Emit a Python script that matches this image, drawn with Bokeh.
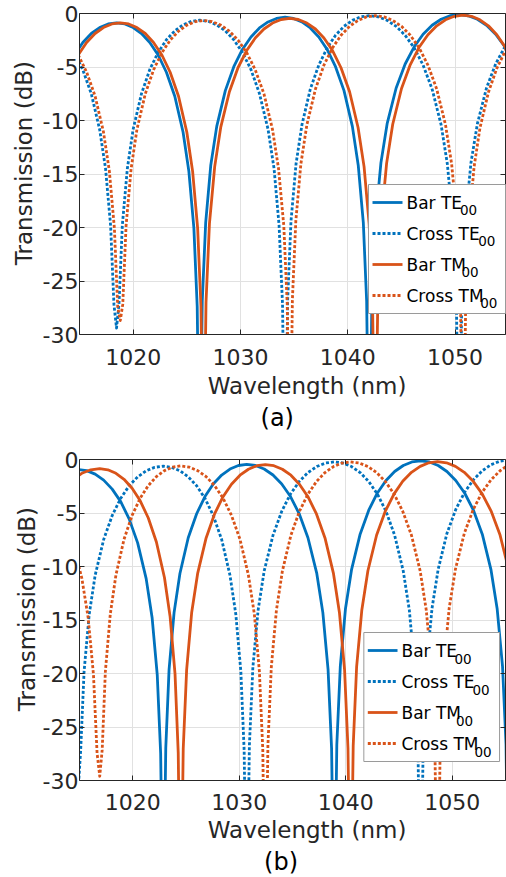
from bokeh.plotting import figure
from bokeh.models import LinearAxis, FixedTicker, Title
from bokeh.core.properties import value
from bokeh.layouts import column
from bokeh.embed import file_html
from bokeh.resources import INLINE

FONT = "DejaVu Sans"
BLUE = "#0072BD"
ORANGE = "#D95319"
AXC = "#262626"
NB = "\u00a0"

wl_ticks = [1020, 1030, 1040, 1050]
db_ticks = [-30, -25, -20, -15, -10, -5, 0]
db_tick_labels = ["-30", "-25", "-20", "-15", "-10", "-5", "0"]
series_labels = ["Bar TE", "Cross TE", "Bar TM", "Cross TM"]
subscript = "00"
x_label = "Wavelength (nm)"
y_label = "Transmission (dB)"

# ---------------- panel (a) ----------------
a_bar_te_wl = [1013.74, 1014.53, 1015.31, 1016.10, 1016.88, 1017.67, 1018.45, 1019.23, 1020.00, 1020.78,
               1021.55, 1022.33, 1023.10, 1023.88, 1024.65, 1025.19, 1025.66, 1025.97, 1026.20,
               1026.44, 1026.76, 1027.23, 1027.79, 1028.59, 1029.38, 1030.18, 1030.98, 1031.77, 1032.57,
               1033.36, 1034.16, 1034.94, 1035.73, 1036.51, 1037.30, 1038.08, 1038.86, 1039.65, 1040.43,
               1040.98, 1041.45, 1041.76, 1042.00,
               1042.25, 1042.59, 1043.09, 1043.67, 1044.51, 1045.35, 1046.19, 1047.02, 1047.86, 1048.70,
               1049.53, 1050.37, 1051.22, 1052.08, 1052.93, 1053.78, 1054.64, 1055.49]
a_bar_te_db = [-5.49, -3.88, -2.71, -1.87, -1.31, -0.98, -0.87, -0.98, -1.31, -1.87,
               -2.71, -3.88, -5.49, -7.73, -11.07, -14.73, -20.06, -27.41, -45,
               -26.89, -19.54, -14.21, -10.55, -7.21, -4.97, -3.36, -2.19, -1.35, -0.79,
               -0.46, -0.35, -0.46, -0.79, -1.35, -2.19, -3.36, -4.97, -7.21, -10.55,
               -14.21, -19.54, -26.89, -45,
               -26.64, -19.29, -13.96, -10.30, -6.96, -4.72, -3.11, -1.94, -1.10, -0.54,
               -0.21, -0.10, -0.21, -0.54, -1.10, -1.94, -3.11, -4.72]

a_cross_te_wl = [1014.53, 1015.31, 1016.10, 1016.88, 1017.43, 1017.90, 1018.21, 1018.45,
                 1018.68, 1018.99, 1019.46, 1020.00, 1020.78, 1021.55, 1022.33, 1023.10, 1023.88, 1024.65,
                 1025.43, 1026.20,
                 1027.00, 1027.79, 1028.59, 1029.38, 1030.18, 1030.98, 1031.77, 1032.57, 1033.13, 1033.60,
                 1033.92, 1034.16,
                 1034.40, 1034.71, 1035.18, 1035.73, 1036.51, 1037.30, 1038.08, 1038.86, 1039.65, 1040.43,
                 1041.22, 1042.00,
                 1042.84, 1043.67, 1044.51, 1045.35, 1046.19, 1047.02, 1047.86, 1048.70, 1049.28, 1049.78,
                 1050.12, 1050.37,
                 1050.63, 1050.97, 1051.48, 1052.08, 1052.93, 1053.78, 1054.64, 1055.49]
a_cross_te_db = [-3.66, -5.27, -7.51, -10.85, -14.51, -19.84, -27.19, -29.4,
                 -27.16, -19.81, -14.48, -10.82, -7.48, -5.24, -3.63, -2.46, -1.62, -1.06,
                 -0.73, -0.62,
                 -0.73, -1.06, -1.62, -2.46, -3.63, -5.24, -7.48, -10.82, -14.48, -19.81,
                 -27.16, -45,
                 -26.74, -19.39, -14.06, -10.40, -7.06, -4.82, -3.21, -2.04, -1.20, -0.64,
                 -0.31, -0.20,
                 -0.31, -0.64, -1.20, -2.04, -3.21, -4.82, -7.06, -10.40, -14.06, -19.39,
                 -26.74, -45,
                 -26.64, -19.29, -13.96, -10.30, -6.96, -4.72, -3.11, -1.94]

a_bar_tm_wl = [1014.09, 1014.88, 1015.66, 1016.45, 1017.23, 1018.02, 1018.80, 1019.58, 1020.35, 1021.13,
               1021.90, 1022.68, 1023.45, 1024.23, 1025.00, 1025.54, 1026.01, 1026.32, 1026.55,
               1026.79, 1027.11, 1027.60, 1028.16, 1028.97, 1029.77, 1030.58, 1031.38, 1032.19, 1032.99,
               1033.80, 1034.60, 1035.40, 1036.19, 1036.99, 1037.78, 1038.58, 1039.37, 1040.17, 1040.96,
               1041.52, 1041.99, 1042.31, 1042.55,
               1042.80, 1043.12, 1043.62, 1044.19, 1045.01, 1045.83, 1046.65, 1047.47, 1048.29, 1049.11,
               1049.93, 1050.75, 1051.54, 1052.32, 1053.11, 1053.89, 1054.68, 1055.46]
a_bar_tm_db = [-5.49, -3.88, -2.71, -1.87, -1.31, -0.98, -0.87, -0.98, -1.31, -1.87,
               -2.71, -3.88, -5.49, -7.73, -11.07, -14.73, -20.06, -27.41, -45,
               -26.99, -19.64, -14.31, -10.65, -7.31, -5.07, -3.46, -2.29, -1.45, -0.89,
               -0.56, -0.45, -0.56, -0.89, -1.45, -2.29, -3.46, -5.07, -7.31, -10.65,
               -14.31, -19.64, -26.99, -45,
               -26.69, -19.34, -14.01, -10.35, -7.01, -4.77, -3.16, -1.99, -1.15, -0.59,
               -0.26, -0.15, -0.26, -0.59, -1.15, -1.99, -3.16, -4.77]

a_cross_tm_wl = [1014.88, 1015.66, 1016.45, 1017.23, 1017.78, 1018.25, 1018.56, 1018.80,
                 1019.03, 1019.34, 1019.81, 1020.35, 1021.13, 1021.90, 1022.68, 1023.45, 1024.23, 1025.00,
                 1025.78, 1026.55,
                 1027.36, 1028.16, 1028.97, 1029.77, 1030.58, 1031.38, 1032.19, 1032.99, 1033.55, 1034.04,
                 1034.36, 1034.60,
                 1034.84, 1035.16, 1035.63, 1036.19, 1036.99, 1037.78, 1038.58, 1039.37, 1040.17, 1040.96,
                 1041.76, 1042.55,
                 1043.37, 1044.19, 1045.01, 1045.83, 1046.65, 1047.47, 1048.29, 1049.11, 1049.68, 1050.18,
                 1050.50, 1050.75,
                 1050.99, 1051.30, 1051.77, 1052.32, 1053.11, 1053.89, 1054.68, 1055.46]
a_cross_tm_db = [-3.86, -5.47, -7.71, -11.05, -14.71, -20.04, -27.39, -28.7,
                 -27.19, -19.84, -14.51, -10.85, -7.51, -5.27, -3.66, -2.49, -1.65, -1.09,
                 -0.76, -0.65,
                 -0.76, -1.09, -1.65, -2.49, -3.66, -5.27, -7.51, -10.85, -14.51, -19.84,
                 -27.19, -45,
                 -26.74, -19.39, -14.06, -10.40, -7.06, -4.82, -3.21, -2.04, -1.20, -0.64,
                 -0.31, -0.20,
                 -0.31, -0.64, -1.20, -2.04, -3.21, -4.82, -7.06, -10.40, -14.06, -19.39,
                 -26.74, -45,
                 -27.04, -19.69, -14.36, -10.70, -7.36, -5.12, -3.51, -2.34]

# ---------------- panel (b) ----------------
b_bar_te_wl = [1013.27, 1014.07, 1014.87, 1015.67, 1016.47, 1017.27, 1018.07, 1018.87, 1019.66, 1020.46,
               1021.26, 1021.82, 1022.30, 1022.62, 1022.86,
               1023.10, 1023.41, 1023.88, 1024.43, 1025.21, 1026.00, 1026.78, 1027.56, 1028.35, 1029.13,
               1029.92, 1030.70, 1031.52, 1032.34, 1033.17, 1033.99, 1034.81, 1035.63, 1036.45, 1037.28,
               1037.85, 1038.34, 1038.67, 1038.92,
               1039.16, 1039.49, 1039.97, 1040.54, 1041.35, 1042.16, 1042.97, 1043.78, 1044.59, 1045.40,
               1046.21, 1047.02, 1047.85, 1048.68, 1049.50, 1050.33, 1051.16, 1051.99, 1052.82, 1053.64,
               1054.22, 1054.72, 1055.05, 1055.30]
b_bar_te_db = [-1.37, -1.04, -0.93, -1.04, -1.37, -1.93, -2.77, -3.94, -5.55, -7.79,
               -11.13, -14.79, -20.12, -27.47, -45,
               -26.99, -19.64, -14.31, -10.65, -7.31, -5.07, -3.46, -2.29, -1.45, -0.89,
               -0.56, -0.45, -0.56, -0.89, -1.45, -2.29, -3.46, -5.07, -7.31, -10.65,
               -14.31, -19.64, -26.99, -45,
               -26.66, -19.31, -13.98, -10.32, -6.98, -4.74, -3.13, -1.96, -1.12, -0.56,
               -0.23, -0.12, -0.23, -0.56, -1.12, -1.96, -3.13, -4.74, -6.98, -10.32,
               -13.98, -19.31, -26.66, -45]

b_cross_te_wl = [1014.63, 1014.87,
                 1015.11, 1015.43, 1015.91, 1016.47, 1017.27, 1018.07, 1018.87, 1019.66, 1020.46, 1021.26,
                 1022.06, 1022.86,
                 1023.64, 1024.43, 1025.21, 1026.00, 1026.78, 1027.56, 1028.35, 1029.13, 1029.68, 1030.15,
                 1030.46, 1030.70,
                 1030.95, 1031.28, 1031.77, 1032.34, 1033.17, 1033.99, 1034.81, 1035.63, 1036.45, 1037.28,
                 1038.10, 1038.92,
                 1039.73, 1040.54, 1041.35, 1042.16, 1042.97, 1043.78, 1044.59, 1045.40, 1045.97, 1046.45,
                 1046.78, 1047.02,
                 1047.27, 1047.60, 1048.10, 1048.68, 1049.50, 1050.33, 1051.16, 1051.99, 1052.82, 1053.64,
                 1054.47, 1055.30]
b_cross_te_db = [-27.5, -31,
                 -27.16, -19.81, -14.48, -10.82, -7.48, -5.24, -3.63, -2.46, -1.62, -1.06,
                 -0.73, -0.62,
                 -0.73, -1.06, -1.62, -2.46, -3.63, -5.24, -7.48, -10.82, -14.48, -19.81,
                 -27.16, -45,
                 -26.76, -19.41, -14.08, -10.42, -7.08, -4.84, -3.23, -2.06, -1.22, -0.66,
                 -0.33, -0.22,
                 -0.33, -0.66, -1.22, -2.06, -3.23, -4.84, -7.08, -10.42, -14.08, -19.41,
                 -26.76, -45,
                 -26.59, -19.24, -13.91, -10.25, -6.91, -4.67, -3.06, -1.89, -1.05, -0.49,
                 -0.16, -0.05]

b_bar_tm_wl = [1013.54, 1014.38, 1015.22, 1016.06, 1016.90, 1017.66, 1018.42, 1019.18, 1019.94, 1020.70,
               1021.46, 1022.22, 1022.98, 1023.51, 1023.97, 1024.27, 1024.50,
               1024.74, 1025.06, 1025.53, 1026.09, 1026.89, 1027.68, 1028.48, 1029.27, 1030.07, 1030.86,
               1031.66, 1032.45, 1033.25, 1034.05, 1034.85, 1035.65, 1036.45, 1037.25, 1038.05, 1038.85,
               1039.41, 1039.89, 1040.21, 1040.45,
               1040.70, 1041.02, 1041.51, 1042.08, 1042.90, 1043.72, 1044.54, 1045.35, 1046.17, 1046.99,
               1047.80, 1048.62, 1049.46, 1050.30, 1051.13, 1051.97, 1052.81, 1053.65, 1054.49, 1055.32]
b_bar_tm_db = [-2.69, -1.85, -1.29, -0.96, -0.85, -0.96, -1.29, -1.85, -2.69, -3.86,
               -5.47, -7.71, -11.05, -14.71, -20.04, -27.39, -45,
               -27.01, -19.66, -14.33, -10.67, -7.33, -5.09, -3.48, -2.31, -1.47, -0.91,
               -0.58, -0.47, -0.58, -0.91, -1.47, -2.31, -3.48, -5.09, -7.33, -10.67,
               -14.33, -19.66, -27.01, -45,
               -26.74, -19.39, -14.06, -10.40, -7.06, -4.82, -3.21, -2.04, -1.20, -0.64,
               -0.31, -0.20, -0.31, -0.64, -1.20, -2.04, -3.21, -4.82, -7.06, -10.40]

b_cross_tm_wl = [1013.54, 1014.38, 1015.22, 1015.81, 1016.31, 1016.65, 1016.90,
                 1017.13, 1017.43, 1017.89, 1018.42, 1019.18, 1019.94, 1020.70, 1021.46, 1022.22, 1022.98,
                 1023.74, 1024.50,
                 1025.30, 1026.09, 1026.89, 1027.68, 1028.48, 1029.27, 1030.07, 1030.86, 1031.42, 1031.89,
                 1032.21, 1032.45,
                 1032.69, 1033.01, 1033.49, 1034.05, 1034.85, 1035.65, 1036.45, 1037.25, 1038.05, 1038.85,
                 1039.65, 1040.45,
                 1041.27, 1042.08, 1042.90, 1043.72, 1044.54, 1045.35, 1046.17, 1046.99, 1047.56, 1048.05,
                 1048.37, 1048.62,
                 1048.87, 1049.21, 1049.71, 1050.30, 1051.13, 1051.97, 1052.81, 1053.65, 1054.49, 1055.32]
b_cross_tm_db = [-5.52, -7.76, -11.10, -14.76, -20.09, -27.44, -29.6,
                 -27.14, -19.79, -14.46, -10.80, -7.46, -5.22, -3.61, -2.44, -1.60, -1.04,
                 -0.71, -0.60,
                 -0.71, -1.04, -1.60, -2.44, -3.61, -5.22, -7.46, -10.80, -14.46, -19.79,
                 -27.14, -45,
                 -26.76, -19.41, -14.08, -10.42, -7.08, -4.84, -3.23, -2.06, -1.22, -0.66,
                 -0.33, -0.22,
                 -0.33, -0.66, -1.22, -2.06, -3.23, -4.84, -7.08, -10.42, -14.08, -19.41,
                 -26.76, -45,
                 -26.59, -19.24, -13.91, -10.25, -6.91, -4.67, -3.06, -1.89, -1.05, -0.49]

STYLES = [(BLUE, None), (BLUE, "3 2"), (ORANGE, None), (ORANGE, "3 2")]
SUB_DX = [53.4, 71.7, 55.0, 73.7]
Y_LO, Y_HI = -30, 0


def make_panel(curves, height, left, top, bottom, x_end, leg_loc, ylab_standoff,
               tick_standoff, xlab_standoff, xlab_shift, tag, tag_shift, tag_standoff, sub_dy):
    width = 506
    x0 = 1015
    p = figure(width=width, height=height, x_range=(x0, x_end), y_range=(Y_LO, Y_HI),
               output_backend="svg", toolbar_location=None,
               min_border_left=left, min_border_right=1, min_border_top=top, min_border_bottom=bottom,
               background_fill_color="white", border_fill_color="white")
    p.outline_line_color = None

    bx = p.below[0]
    ly = p.left[0]
    for ax, ticks in ((bx, wl_ticks), (ly, db_ticks)):
        ax.ticker = FixedTicker(ticks=ticks)
        ax.major_tick_in = 5
        ax.major_tick_out = 0
        ax.minor_tick_in = 0
        ax.minor_tick_out = 0
        ax.axis_line_color = AXC
        ax.major_tick_line_color = AXC
        ax.major_label_text_font = FONT
        ax.major_label_text_font_size = "22px"
        ax.major_label_text_color = AXC
        ax.axis_label_text_font = FONT
        ax.axis_label_text_font_size = "23px"
        ax.axis_label_text_font_style = "normal"
        ax.axis_label_text_color = AXC
    bx.major_label_standoff = tick_standoff
    bx.axis_label = NB * xlab_shift + x_label
    bx.axis_label_standoff = xlab_standoff
    ly.major_label_standoff = 1
    ly.major_label_overrides = {t: s for t, s in zip(db_ticks, db_tick_labels)}
    ly.axis_label = NB * 3 + y_label
    ly.axis_label_standoff = ylab_standoff

    for side, ticks in (("above", wl_ticks), ("right", db_ticks)):
        ax = LinearAxis(ticker=FixedTicker(ticks=ticks),
                        major_label_overrides={t: "" for t in ticks},
                        major_label_text_font_size="0px", major_label_standoff=0,
                        major_tick_in=5, major_tick_out=0, minor_tick_in=0, minor_tick_out=0,
                        axis_line_color=AXC, major_tick_line_color=AXC)
        p.add_layout(ax, side)

    p.add_layout(Title(text=tag + NB * tag_shift, align="center", text_font=FONT,
                       text_font_size="24px", text_font_style="normal", text_color="black",
                       standoff=tag_standoff, offset=0), "below")

    p.xgrid.ticker = FixedTicker(ticks=wl_ticks)
    p.ygrid.ticker = FixedTicker(ticks=db_ticks)
    p.grid.grid_line_color = "#e1e1e1"
    p.grid.grid_line_width = 1

    for (wl, db), (color, dash) in zip(curves, STYLES):
        kw = dict(line_color=color, line_width=2.8, line_join="round")
        if dash:
            kw["line_dash"] = dash
        p.line(wl, db, **kw)

    # legend, drawn as overlay glyphs; positions in frame pixels converted to data units
    frame_w = width - left - 1
    frame_h = height - top - bottom
    kx = (x_end - x0) / frame_w
    ky = (Y_HI - Y_LO) / frame_h

    def X(px):
        return x0 + px * kx

    def Y(py):
        return Y_LO + py * ky

    lx, lyy = leg_loc
    lw, lh = 137, 129
    p.quad(left=[X(lx)], right=[X(lx + lw)], bottom=[Y(lyy)], top=[Y(lyy + lh)],
           fill_color="white", fill_alpha=1.0, line_color="#9a9a9a", line_width=1, level="overlay")
    text_x = lx + 4 + 30 + 4
    tx, ty, sx, sy = [], [], [], []
    for k, (color, dash) in enumerate(STYLES):
        row_y = lyy + lh - 4 - 14 - 31 * k
        kw = dict(line_color=color, line_width=2.8, level="overlay")
        if dash:
            kw["line_dash"] = dash
        p.line([X(lx + 4), X(lx + 34)], [Y(row_y), Y(row_y)], **kw)
        tx.append(X(text_x))
        ty.append(Y(row_y))
        sx.append(X(text_x + SUB_DX[k]))
        sy.append(Y(row_y - sub_dy))
    p.text(x=tx, y=ty, text=series_labels, text_font=value(FONT), text_font_size=value("17px"),
           text_color="black", text_align="left", text_baseline="middle", level="overlay")
    p.text(x=sx, y=sy, text=[subscript] * 4, text_font=value(FONT), text_font_size=value("13.5px"),
           text_color="black", text_align="left", text_baseline="middle", level="overlay")
    return p


pa = make_panel([(a_bar_te_wl, a_bar_te_db), (a_cross_te_wl, a_cross_te_db),
                 (a_bar_tm_wl, a_bar_tm_db), (a_cross_tm_wl, a_cross_tm_db)],
                height=440, left=79, top=13, bottom=106, x_end=1054.7, leg_loc=(289, 21),
                ylab_standoff=3, tick_standoff=14, xlab_standoff=5, xlab_shift=4,
                tag="(a)", tag_shift=4, tag_standoff=0, sub_dy=7.5)
pb = make_panel([(b_bar_te_wl, b_bar_te_db), (b_cross_te_wl, b_cross_te_db),
                 (b_bar_tm_wl, b_bar_tm_db), (b_cross_tm_wl, b_cross_tm_db)],
                height=437, left=75, top=19, bottom=97, x_end=1055, leg_loc=(287, 19),
                ylab_standoff=0, tick_standoff=13, xlab_standoff=4, xlab_shift=4,
                tag="(b)", tag_shift=3, tag_standoff=1, sub_dy=8)

layout = column(pa, pb)
open("out.html", "w").write(file_html(layout, INLINE))
